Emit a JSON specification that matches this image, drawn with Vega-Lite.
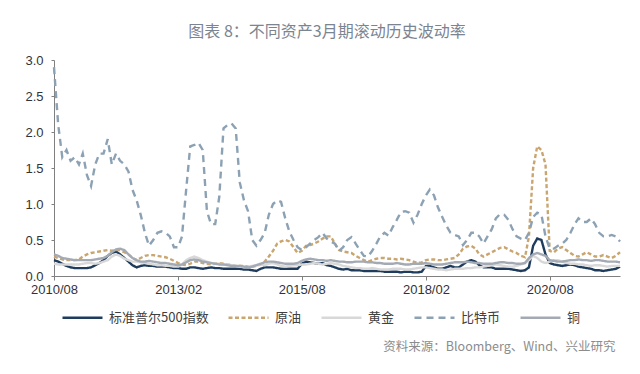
{
  "$schema": "https://vega.github.io/schema/vega-lite/v6.json",
  "autosize": {"type": "none"},
  "padding": {"left": 54, "top": 60, "right": 20, "bottom": 98},
  "width": 566,
  "height": 216,
  "background": "white",
  "title": {"text": "图表 8：不同资产3月期滚动历史波动率", "anchor": "middle", "frame": "group", "dx": -10, "offset": 14, "fontSize": 16, "color": "#7b8491", "fontWeight": "normal", "font": "Noto Sans CJK SC"},
  "config": {"view": {"stroke": null}, "font": "Noto Sans CJK SC"},
  "data": {"values": [
    {"d":"2010-08-01","s":0.22,"o":0.27,"g":0.17,"b":2.9,"c":0.3},
    {"d":"2010-09-01","s":0.2,"o":0.25,"g":0.16,"b":2.1,"c":0.28},
    {"d":"2010-10-01","s":0.17,"o":0.23,"g":0.16,"b":1.65,"c":0.25},
    {"d":"2010-11-01","s":0.14,"o":0.22,"g":0.16,"b":1.75,"c":0.24},
    {"d":"2010-12-01","s":0.12,"o":0.22,"g":0.16,"b":1.6,"c":0.23},
    {"d":"2011-01-01","s":0.11,"o":0.22,"g":0.16,"b":1.65,"c":0.22},
    {"d":"2011-02-01","s":0.11,"o":0.23,"g":0.16,"b":1.55,"c":0.22},
    {"d":"2011-03-01","s":0.11,"o":0.27,"g":0.17,"b":1.7,"c":0.22},
    {"d":"2011-04-01","s":0.11,"o":0.3,"g":0.18,"b":1.4,"c":0.22},
    {"d":"2011-05-01","s":0.12,"o":0.32,"g":0.18,"b":1.25,"c":0.22},
    {"d":"2011-06-01","s":0.15,"o":0.33,"g":0.17,"b":1.55,"c":0.23},
    {"d":"2011-07-01","s":0.18,"o":0.34,"g":0.18,"b":1.7,"c":0.24},
    {"d":"2011-08-01","s":0.22,"o":0.35,"g":0.2,"b":1.7,"c":0.25},
    {"d":"2011-09-01","s":0.28,"o":0.36,"g":0.22,"b":1.9,"c":0.28},
    {"d":"2011-10-01","s":0.32,"o":0.35,"g":0.27,"b":1.55,"c":0.33},
    {"d":"2011-11-01","s":0.34,"o":0.36,"g":0.3,"b":1.7,"c":0.37},
    {"d":"2011-12-01","s":0.3,"o":0.36,"g":0.28,"b":1.6,"c":0.38},
    {"d":"2012-01-01","s":0.25,"o":0.33,"g":0.24,"b":1.55,"c":0.36},
    {"d":"2012-02-01","s":0.2,"o":0.3,"g":0.22,"b":1.45,"c":0.3},
    {"d":"2012-03-01","s":0.15,"o":0.25,"g":0.2,"b":1.2,"c":0.25},
    {"d":"2012-04-01","s":0.12,"o":0.22,"g":0.2,"b":1.05,"c":0.22},
    {"d":"2012-05-01","s":0.14,"o":0.25,"g":0.19,"b":0.85,"c":0.2},
    {"d":"2012-06-01","s":0.15,"o":0.28,"g":0.18,"b":0.6,"c":0.2},
    {"d":"2012-07-01","s":0.14,"o":0.29,"g":0.17,"b":0.42,"c":0.21},
    {"d":"2012-08-01","s":0.14,"o":0.29,"g":0.16,"b":0.5,"c":0.2},
    {"d":"2012-09-01","s":0.13,"o":0.28,"g":0.15,"b":0.6,"c":0.19},
    {"d":"2012-10-01","s":0.13,"o":0.27,"g":0.15,"b":0.62,"c":0.18},
    {"d":"2012-11-01","s":0.13,"o":0.26,"g":0.14,"b":0.6,"c":0.18},
    {"d":"2012-12-01","s":0.12,"o":0.24,"g":0.14,"b":0.55,"c":0.17},
    {"d":"2013-01-01","s":0.11,"o":0.21,"g":0.13,"b":0.4,"c":0.16},
    {"d":"2013-02-01","s":0.11,"o":0.18,"g":0.13,"b":0.4,"c":0.15},
    {"d":"2013-03-01","s":0.1,"o":0.16,"g":0.16,"b":0.55,"c":0.16},
    {"d":"2013-04-01","s":0.1,"o":0.15,"g":0.22,"b":1.2,"c":0.19},
    {"d":"2013-05-01","s":0.12,"o":0.17,"g":0.25,"b":1.8,"c":0.22},
    {"d":"2013-06-01","s":0.12,"o":0.2,"g":0.27,"b":1.82,"c":0.23},
    {"d":"2013-07-01","s":0.11,"o":0.2,"g":0.25,"b":1.85,"c":0.22},
    {"d":"2013-08-01","s":0.1,"o":0.18,"g":0.22,"b":1.75,"c":0.2},
    {"d":"2013-09-01","s":0.11,"o":0.17,"g":0.2,"b":0.9,"c":0.19},
    {"d":"2013-10-01","s":0.12,"o":0.16,"g":0.18,"b":0.72,"c":0.18},
    {"d":"2013-11-01","s":0.11,"o":0.17,"g":0.17,"b":0.72,"c":0.17},
    {"d":"2013-12-01","s":0.11,"o":0.18,"g":0.17,"b":1.1,"c":0.16},
    {"d":"2014-01-01","s":0.1,"o":0.17,"g":0.16,"b":2.05,"c":0.16},
    {"d":"2014-02-01","s":0.1,"o":0.16,"g":0.16,"b":2.1,"c":0.15},
    {"d":"2014-03-01","s":0.1,"o":0.15,"g":0.15,"b":2.12,"c":0.14},
    {"d":"2014-04-01","s":0.1,"o":0.14,"g":0.14,"b":2.05,"c":0.14},
    {"d":"2014-05-01","s":0.1,"o":0.14,"g":0.13,"b":1.3,"c":0.14},
    {"d":"2014-06-01","s":0.09,"o":0.14,"g":0.12,"b":1.05,"c":0.13},
    {"d":"2014-07-01","s":0.09,"o":0.13,"g":0.12,"b":0.9,"c":0.12},
    {"d":"2014-08-01","s":0.08,"o":0.13,"g":0.14,"b":0.5,"c":0.13},
    {"d":"2014-09-01","s":0.07,"o":0.14,"g":0.15,"b":0.42,"c":0.15},
    {"d":"2014-10-01","s":0.1,"o":0.16,"g":0.16,"b":0.5,"c":0.17},
    {"d":"2014-11-01","s":0.12,"o":0.2,"g":0.15,"b":0.6,"c":0.19},
    {"d":"2014-12-01","s":0.12,"o":0.27,"g":0.17,"b":0.85,"c":0.2},
    {"d":"2015-01-01","s":0.12,"o":0.35,"g":0.18,"b":1.0,"c":0.2},
    {"d":"2015-02-01","s":0.11,"o":0.45,"g":0.16,"b":1.05,"c":0.19},
    {"d":"2015-03-01","s":0.1,"o":0.48,"g":0.14,"b":1.03,"c":0.18},
    {"d":"2015-04-01","s":0.1,"o":0.5,"g":0.13,"b":0.8,"c":0.17},
    {"d":"2015-05-01","s":0.1,"o":0.48,"g":0.14,"b":0.62,"c":0.17},
    {"d":"2015-06-01","s":0.1,"o":0.4,"g":0.15,"b":0.5,"c":0.17},
    {"d":"2015-07-01","s":0.1,"o":0.32,"g":0.15,"b":0.4,"c":0.18},
    {"d":"2015-08-01","s":0.17,"o":0.35,"g":0.16,"b":0.36,"c":0.21},
    {"d":"2015-09-01","s":0.2,"o":0.42,"g":0.16,"b":0.4,"c":0.23},
    {"d":"2015-10-01","s":0.19,"o":0.43,"g":0.17,"b":0.45,"c":0.24},
    {"d":"2015-11-01","s":0.18,"o":0.45,"g":0.18,"b":0.5,"c":0.23},
    {"d":"2015-12-01","s":0.17,"o":0.48,"g":0.17,"b":0.54,"c":0.22},
    {"d":"2016-01-01","s":0.18,"o":0.52,"g":0.16,"b":0.6,"c":0.22},
    {"d":"2016-02-01","s":0.15,"o":0.55,"g":0.17,"b":0.52,"c":0.21},
    {"d":"2016-03-01","s":0.14,"o":0.55,"g":0.18,"b":0.48,"c":0.22},
    {"d":"2016-04-01","s":0.12,"o":0.45,"g":0.17,"b":0.45,"c":0.21},
    {"d":"2016-05-01","s":0.1,"o":0.36,"g":0.16,"b":0.35,"c":0.2},
    {"d":"2016-06-01","s":0.09,"o":0.34,"g":0.14,"b":0.4,"c":0.2},
    {"d":"2016-07-01","s":0.1,"o":0.33,"g":0.13,"b":0.5,"c":0.19},
    {"d":"2016-08-01","s":0.08,"o":0.32,"g":0.12,"b":0.54,"c":0.19},
    {"d":"2016-09-01","s":0.08,"o":0.28,"g":0.11,"b":0.45,"c":0.2},
    {"d":"2016-10-01","s":0.08,"o":0.25,"g":0.11,"b":0.36,"c":0.2},
    {"d":"2016-11-01","s":0.07,"o":0.22,"g":0.1,"b":0.28,"c":0.2},
    {"d":"2016-12-01","s":0.07,"o":0.2,"g":0.1,"b":0.27,"c":0.19},
    {"d":"2017-01-01","s":0.07,"o":0.22,"g":0.11,"b":0.35,"c":0.19},
    {"d":"2017-02-01","s":0.07,"o":0.24,"g":0.1,"b":0.45,"c":0.18},
    {"d":"2017-03-01","s":0.07,"o":0.25,"g":0.09,"b":0.55,"c":0.18},
    {"d":"2017-04-01","s":0.06,"o":0.25,"g":0.09,"b":0.6,"c":0.17},
    {"d":"2017-05-01","s":0.06,"o":0.24,"g":0.09,"b":0.56,"c":0.17},
    {"d":"2017-06-01","s":0.06,"o":0.24,"g":0.1,"b":0.68,"c":0.17},
    {"d":"2017-07-01","s":0.06,"o":0.23,"g":0.1,"b":0.78,"c":0.18},
    {"d":"2017-08-01","s":0.05,"o":0.24,"g":0.1,"b":0.89,"c":0.17},
    {"d":"2017-09-01","s":0.06,"o":0.23,"g":0.09,"b":0.9,"c":0.16},
    {"d":"2017-10-01","s":0.06,"o":0.22,"g":0.09,"b":0.88,"c":0.16},
    {"d":"2017-11-01","s":0.05,"o":0.2,"g":0.1,"b":0.74,"c":0.17},
    {"d":"2017-12-01","s":0.05,"o":0.18,"g":0.11,"b":0.85,"c":0.17},
    {"d":"2018-01-01","s":0.06,"o":0.19,"g":0.12,"b":1.0,"c":0.17},
    {"d":"2018-02-01","s":0.14,"o":0.22,"g":0.12,"b":1.12,"c":0.18},
    {"d":"2018-03-01","s":0.14,"o":0.23,"g":0.11,"b":1.2,"c":0.17},
    {"d":"2018-04-01","s":0.12,"o":0.23,"g":0.1,"b":1.12,"c":0.16},
    {"d":"2018-05-01","s":0.1,"o":0.22,"g":0.09,"b":0.95,"c":0.16},
    {"d":"2018-06-01","s":0.1,"o":0.22,"g":0.09,"b":0.82,"c":0.16},
    {"d":"2018-07-01","s":0.12,"o":0.23,"g":0.08,"b":0.7,"c":0.17},
    {"d":"2018-08-01","s":0.14,"o":0.24,"g":0.09,"b":0.6,"c":0.18},
    {"d":"2018-09-01","s":0.12,"o":0.25,"g":0.1,"b":0.57,"c":0.19},
    {"d":"2018-10-01","s":0.12,"o":0.3,"g":0.1,"b":0.55,"c":0.19},
    {"d":"2018-11-01","s":0.16,"o":0.38,"g":0.1,"b":0.43,"c":0.19},
    {"d":"2018-12-01","s":0.2,"o":0.41,"g":0.11,"b":0.5,"c":0.2},
    {"d":"2019-01-01","s":0.22,"o":0.42,"g":0.11,"b":0.6,"c":0.19},
    {"d":"2019-02-01","s":0.2,"o":0.38,"g":0.12,"b":0.6,"c":0.18},
    {"d":"2019-03-01","s":0.15,"o":0.3,"g":0.12,"b":0.55,"c":0.18},
    {"d":"2019-04-01","s":0.12,"o":0.27,"g":0.13,"b":0.45,"c":0.17},
    {"d":"2019-05-01","s":0.12,"o":0.3,"g":0.14,"b":0.55,"c":0.17},
    {"d":"2019-06-01","s":0.12,"o":0.33,"g":0.15,"b":0.65,"c":0.17},
    {"d":"2019-07-01","s":0.1,"o":0.36,"g":0.16,"b":0.8,"c":0.18},
    {"d":"2019-08-01","s":0.1,"o":0.39,"g":0.15,"b":0.86,"c":0.19},
    {"d":"2019-09-01","s":0.1,"o":0.4,"g":0.14,"b":0.85,"c":0.19},
    {"d":"2019-10-01","s":0.1,"o":0.37,"g":0.13,"b":0.78,"c":0.18},
    {"d":"2019-11-01","s":0.09,"o":0.34,"g":0.13,"b":0.65,"c":0.18},
    {"d":"2019-12-01","s":0.08,"o":0.32,"g":0.14,"b":0.55,"c":0.17},
    {"d":"2020-01-01","s":0.07,"o":0.28,"g":0.16,"b":0.52,"c":0.17},
    {"d":"2020-02-01","s":0.08,"o":0.26,"g":0.18,"b":0.5,"c":0.18},
    {"d":"2020-03-01","s":0.12,"o":0.55,"g":0.22,"b":0.6,"c":0.25},
    {"d":"2020-04-01","s":0.42,"o":1.5,"g":0.28,"b":0.82,"c":0.3},
    {"d":"2020-05-01","s":0.52,"o":1.8,"g":0.25,"b":0.88,"c":0.32},
    {"d":"2020-06-01","s":0.5,"o":1.75,"g":0.2,"b":0.85,"c":0.3},
    {"d":"2020-07-01","s":0.3,"o":1.55,"g":0.18,"b":0.55,"c":0.28},
    {"d":"2020-08-01","s":0.18,"o":0.35,"g":0.2,"b":0.38,"c":0.22},
    {"d":"2020-09-01","s":0.16,"o":0.33,"g":0.22,"b":0.38,"c":0.21},
    {"d":"2020-10-01","s":0.15,"o":0.38,"g":0.22,"b":0.42,"c":0.2},
    {"d":"2020-11-01","s":0.14,"o":0.4,"g":0.2,"b":0.45,"c":0.2},
    {"d":"2020-12-01","s":0.15,"o":0.36,"g":0.18,"b":0.5,"c":0.21},
    {"d":"2021-01-01","s":0.16,"o":0.32,"g":0.17,"b":0.6,"c":0.22},
    {"d":"2021-02-01","s":0.15,"o":0.28,"g":0.17,"b":0.72,"c":0.22},
    {"d":"2021-03-01","s":0.13,"o":0.27,"g":0.16,"b":0.8,"c":0.23},
    {"d":"2021-04-01","s":0.12,"o":0.3,"g":0.16,"b":0.75,"c":0.22},
    {"d":"2021-05-01","s":0.11,"o":0.33,"g":0.15,"b":0.75,"c":0.22},
    {"d":"2021-06-01","s":0.1,"o":0.3,"g":0.14,"b":0.8,"c":0.21},
    {"d":"2021-07-01","s":0.08,"o":0.27,"g":0.15,"b":0.72,"c":0.22},
    {"d":"2021-08-01","s":0.08,"o":0.27,"g":0.15,"b":0.6,"c":0.22},
    {"d":"2021-09-01","s":0.07,"o":0.29,"g":0.14,"b":0.55,"c":0.21},
    {"d":"2021-10-01","s":0.08,"o":0.27,"g":0.13,"b":0.55,"c":0.2},
    {"d":"2021-11-01","s":0.09,"o":0.25,"g":0.14,"b":0.57,"c":0.2},
    {"d":"2021-12-01","s":0.1,"o":0.28,"g":0.14,"b":0.55,"c":0.2},
    {"d":"2022-01-01","s":0.13,"o":0.33,"g":0.14,"b":0.48,"c":0.19}
  ]},
  "transform": [{"fold": ["s", "o", "g", "b", "c"], "as": ["k", "v"]}],
  "mark": {"type": "line", "strokeWidth": 2.4},
  "encoding": {
    "x": {"field": "d", "type": "temporal",
      "scale": {"type": "utc", "domain": [{"year": 2010, "month": 8, "date": 1, "utc": true}, {"year": 2022, "month": 1, "date": 1, "utc": true}]},
      "axis": {"values": [{"year": 2010, "month": 8, "date": 1, "utc": true}, {"year": 2013, "month": 2, "date": 1, "utc": true}, {"year": 2015, "month": 8, "date": 1, "utc": true}, {"year": 2018, "month": 2, "date": 1, "utc": true}, {"year": 2020, "month": 8, "date": 1, "utc": true}],
        "format": "%Y/%m", "labelFlush": false, "grid": false, "labelFont": "Liberation Sans", "labelFontSize": 13, "labelColor": "#333333", "labelPadding": 3, "tickSize": 4, "tickColor": "#808080", "domainColor": "#808080",
        "title": "资料来源：Bloomberg、Wind、兴业研究", "titleX": 561, "titleY": 70, "titleAlign": "right", "titleBaseline": "middle", "titleFontSize": 12.5, "titleColor": "#8c8c8c", "titleFontWeight": "normal", "titleFont": "Noto Sans CJK SC"}},
    "y": {"field": "v", "type": "quantitative",
      "scale": {"domain": [0, 3], "nice": false},
      "axis": {"values": [0, 0.5, 1, 1.5, 2, 2.5, 3], "format": ".1f", "grid": false, "title": null, "tickSize": 3, "labelPadding": 8, "labelFont": "Liberation Sans", "labelFontSize": 13, "labelColor": "#333333", "tickColor": "#808080", "domainColor": "#808080"}},
    "color": {"field": "k", "type": "nominal",
      "scale": {"domain": ["s", "o", "g", "b", "c"], "range": ["#1f3c5c", "#c9a56f", "#d8d8d8", "#8ca2b4", "#a3aab3"]},
      "legend": {"orient": "none", "legendX": 7, "legendY": 236, "direction": "horizontal", "columns": 5, "title": null, "symbolType": "stroke", "symbolSize": 1600, "symbolStrokeWidth": 2.5, "labelFontSize": 13, "labelFont": "Noto Sans CJK SC", "labelColor": "#404040", "labelOffset": 5, "columnPadding": 14,
        "labelExpr": "datum.label == 's' ? '标准普尔500指数' : datum.label == 'o' ? '原油' : datum.label == 'g' ? '黄金' : datum.label == 'b' ? '比特币' : '铜'"}},
    "strokeDash": {"field": "k", "type": "nominal",
      "scale": {"domain": ["s", "o", "g", "b", "c"], "range": [[1, 0], [4, 2.5], [1, 0], [7, 5], [1, 0]]},
      "legend": {"orient": "none", "legendX": 7, "legendY": 236, "direction": "horizontal", "columns": 5, "title": null, "symbolType": "stroke", "symbolSize": 1600, "symbolStrokeWidth": 2.5, "labelFontSize": 13, "labelFont": "Noto Sans CJK SC", "labelColor": "#404040", "labelOffset": 5, "columnPadding": 14,
        "labelExpr": "datum.label == 's' ? '标准普尔500指数' : datum.label == 'o' ? '原油' : datum.label == 'g' ? '黄金' : datum.label == 'b' ? '比特币' : '铜'"}}
  }
}
